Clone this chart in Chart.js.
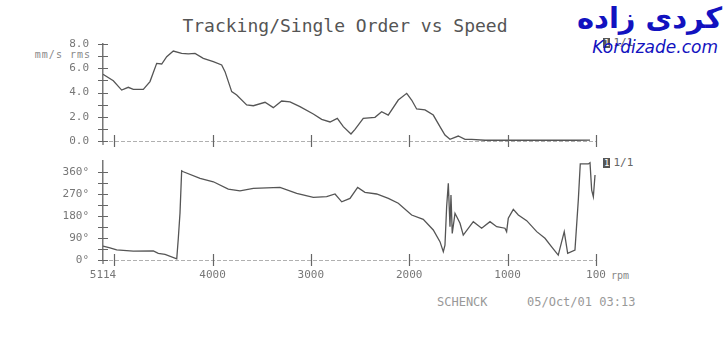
<!DOCTYPE html>
<html>
<head>
<meta charset="utf-8">
<script src="https://cdn.jsdelivr.net/npm/chart.js"></script>
<style>
  body { margin: 0; background: #fff; }
  #wrap { position: relative; width: 728px; height: 338px; overflow: hidden; background: #fff; }
  canvas { position: absolute; left: 0; }
  .txt { position: absolute; font-family: 'DejaVu Sans Mono', monospace; color: #666; white-space: nowrap; }
  .mk { display: inline-block; background: #555; color: #fff; font-size: 9px; line-height: 10px; padding: 0 1px; margin-right: 3px; }
</style>
</head>
<body>
<div id="wrap">
  <div class="txt" style="left:0; width:690px; text-align:center; top:15px; font-size:18px; color:#555;">Tracking/Single Order vs Speed</div>
  <div class="txt" style="left:0; width:91px; text-align:right; top:49px; font-size:10px; letter-spacing:1px; color:#888;">mm/s rms</div>
  <div class="txt" style="left:603px; top:36px; font-size:11px;"><span class="mk">1</span>1/1</div>
  <div class="txt" style="left:603px; top:156px; font-size:11px;"><span class="mk">1</span>1/1</div>
  <div class="txt" style="left:611px; top:270px; font-size:10px; color:#888;">rpm</div>
  <div class="txt" style="left:437px; top:295px; font-size:12px; color:#999;">SCHENCK</div>
  <div class="txt" style="left:527px; top:295px; font-size:12px; color:#999;">05/Oct/01 03:13</div>
  <div style="position:absolute; right:6px; top:1px; font-family:'DejaVu Sans', sans-serif; font-size:29px; font-weight:bold; color:#1212c0; direction:rtl;">کردی زاده</div>
  <div style="position:absolute; right:10px; top:37px; font-family:'DejaVu Sans', sans-serif; font-size:17px; font-style:italic; color:#1212c0;">Kordizade.com</div>
  <canvas id="ampChart" width="728" height="160" style="top:0;"></canvas>
  <canvas id="phaseChart" width="728" height="150" style="top:150px;"></canvas>
</div>
<script>
// speed axis
var rpmMax = 5114;
var rpmMin = 100;
var xTickValues = [5114, 5000, 4000, 3000, 2000, 1000, 100];
var xTickLabels = ['5114', '', '4000', '3000', '2000', '1000', '100'];

// amplitude (mm/s rms)
var ampRpm = [5114, 5009, 4924, 4857, 4806, 4704, 4636, 4568, 4517, 4466, 4399, 4314, 4246, 4178, 4094, 3992, 3907, 3873, 3805, 3754, 3653, 3585, 3466, 3382, 3297, 3212, 3111, 2975, 2890, 2805, 2731, 2670, 2592, 2551, 2467, 2348, 2280, 2213, 2111, 2025, 1975, 1924, 1839, 1755, 1687, 1636, 1585, 1501, 1432, 1364, 1229, 1026, 792, 517, 314, 161];
var ampValues = [5.5, 4.97, 4.2, 4.43, 4.26, 4.26, 4.9, 6.4, 6.35, 6.95, 7.42, 7.23, 7.18, 7.23, 6.82, 6.54, 6.27, 5.72, 4.07, 3.8, 2.97, 2.91, 3.19, 2.75, 3.3, 3.22, 2.83, 2.23, 1.79, 1.57, 1.87, 1.18, 0.58, 0.96, 1.87, 1.95, 2.42, 2.14, 3.38, 3.93, 3.38, 2.64, 2.56, 2.14, 1.18, 0.49, 0.14, 0.41, 0.14, 0.14, 0.06, 0.06, 0.06, 0.06, 0.06, 0.08];
var ampTicks = [0, 1, 2, 3, 4, 5, 6, 7, 8];

// phase (degrees)
var phaseRpm = [5114, 5043, 4975, 4806, 4602, 4552, 4483, 4364, 4348, 4331, 4314, 4297, 4127, 3992, 3840, 3721, 3585, 3314, 3144, 2975, 2839, 2754, 2686, 2602, 2524, 2450, 2331, 2212, 2111, 1975, 1857, 1755, 1687, 1653, 1636, 1619, 1602, 1585, 1575, 1562, 1534, 1483, 1450, 1348, 1263, 1178, 1110, 1026, 1009, 992, 941, 890, 805, 703, 619, 551, 484, 423, 388, 314, 280, 260, 178, 161, 144, 127, 110];
var phaseValues = [57, 50, 41, 36, 37, 27, 23, 5, 89, 191, 365, 361, 334, 320, 290, 283, 293, 297, 273, 256, 259, 270, 238, 252, 297, 277, 270, 252, 232, 184, 166, 123, 75, 34, 61, 218, 314, 136, 266, 109, 191, 150, 102, 157, 130, 157, 136, 130, 116, 171, 207, 184, 161, 116, 89, 54, 20, 116, 27, 41, 245, 393, 393, 398, 286, 259, 348];
var phaseTicks = [0, 45, 90, 135, 180, 225, 270, 315, 360];

function toPoints(xs, ys) {
  var pts = [];
  for (var i in xs) pts.push({x: xs[i], y: ys[i]});
  return pts;
}

var tickFont = {family: 'DejaVu Sans Mono', size: 11};

var crossTicks = {
  id: 'crossTicks',
  afterDraw: function(chart) {
    var ctx = chart.ctx;
    var area = chart.chartArea;
    var xs = chart.scales.x, ys = chart.scales.y;
    ctx.save();
    ctx.strokeStyle = '#b0b0b0';
    ctx.lineWidth = 1;
    ctx.setLineDash([4, 2]);
    ctx.beginPath();
    ctx.moveTo(area.left, area.bottom + 0.5);
    ctx.lineTo(area.right, area.bottom + 0.5);
    ctx.stroke();
    ctx.setLineDash([]);
    ctx.strokeStyle = '#666';
    ctx.lineWidth = 1.2;
    ctx.beginPath();
    xs.ticks.forEach(function(t) {
      if (t.value === rpmMax) return;
      var px = Math.round(xs.getPixelForValue(t.value)) + 0.5;
      ctx.moveTo(px, area.bottom - 6);
      ctx.lineTo(px, area.bottom + 6);
    });
    ys.ticks.forEach(function(t) {
      var py = Math.round(ys.getPixelForValue(t.value)) + 0.5;
      ctx.moveTo(area.left - 5, py);
      ctx.lineTo(area.left + 5, py);
    });
    ctx.moveTo(area.left, area.bottom);
    ctx.lineTo(area.left, area.bottom + 4);
    ctx.stroke();
    ctx.restore();
  }
};

function xScale(showLabels, height) {
  return {
    type: 'linear',
    min: rpmMin,
    max: rpmMax,
    reverse: true,
    afterBuildTicks: function(s) { s.ticks = xTickValues.map(function(v) { return {value: v}; }); },
    afterFit: function(s) { s.height = height; },
    grid: {display: false, drawTicks: false},
    border: {display: false},
    ticks: {
      display: showLabels,
      autoSkip: false,
      maxRotation: 0,
      padding: 9,
      color: '#777',
      font: tickFont,
      callback: function(v) { return xTickLabels[xTickValues.indexOf(v)]; }
    }
  };
}

function yScale(min, max, values, fmt) {
  return {
    min: min,
    max: max,
    afterBuildTicks: function(s) { s.ticks = values.map(function(v) { return {value: v}; }); },
    afterFit: function(s) { s.width = 103; },
    grid: {display: false, drawTicks: true, tickLength: 11},
    border: {display: true, color: '#777', width: 1.5},
    ticks: {
      autoSkip: false,
      padding: 3,
      color: '#777',
      font: tickFont,
      callback: fmt
    }
  };
}

var ampChart = new Chart(document.getElementById('ampChart'), {
  type: 'line',
  data: {
    datasets: [{
      data: toPoints(ampRpm, ampValues),
      borderColor: '#555',
      borderWidth: 1.3,
      pointRadius: 0,
      tension: 0,
      fill: false
    }]
  },
  options: {
    responsive: false,
    animation: false,
    layout: {padding: {left: 0, right: 132, top: 44, bottom: 0}},
    plugins: {legend: {display: false}, tooltip: {enabled: false}},
    scales: {
      x: xScale(false, 19),
      y: yScale(0, 8, ampTicks, function(v) { return v % 2 === 0 ? v.toFixed(1) : ''; })
    }
  },
  plugins: [crossTicks]
});

var phaseChart = new Chart(document.getElementById('phaseChart'), {
  type: 'line',
  data: {
    datasets: [{
      data: toPoints(phaseRpm, phaseValues),
      borderColor: '#555',
      borderWidth: 1.3,
      pointRadius: 0,
      tension: 0,
      fill: false
    }]
  },
  options: {
    responsive: false,
    animation: false,
    layout: {padding: {left: 0, right: 132, top: 11, bottom: 0}},
    plugins: {legend: {display: false}, tooltip: {enabled: false}},
    scales: {
      x: xScale(true, 40),
      y: yScale(0, 405, phaseTicks, function(v) { return v % 90 === 0 ? v + '°' : ''; })
    }
  },
  plugins: [crossTicks]
});
</script>
</body>
</html>
